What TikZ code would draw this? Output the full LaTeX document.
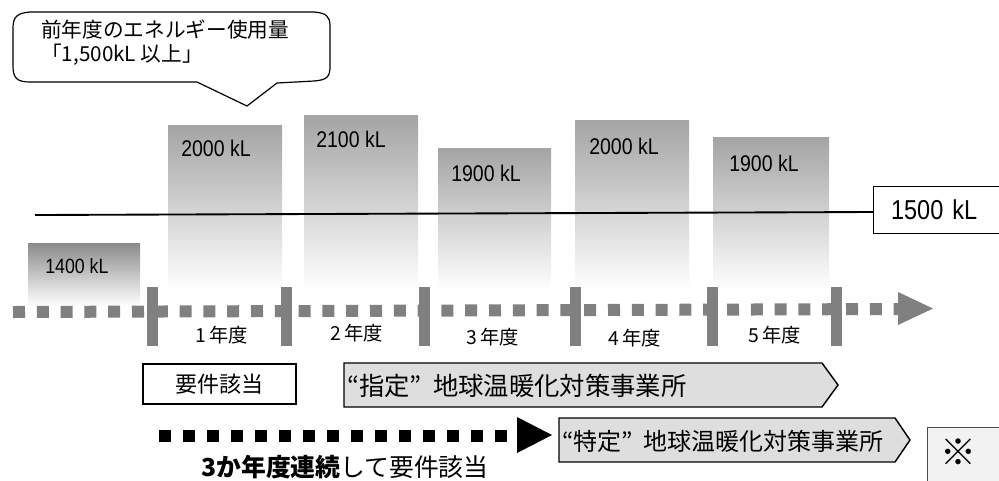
\documentclass[tikz,border=0pt]{standalone}
\usepackage{fontspec}
\setmainfont{Noto Sans CJK JP}
\newfontfamily\lat[FakeStretch=0.86]{Liberation Sans}
\definecolor{tl}{HTML}{808080}
\definecolor{barc}{HTML}{A4A4A4}
\definecolor{barcd}{HTML}{8A8A8A}
\definecolor{boxg}{HTML}{DEDEDE}
\definecolor{noteg}{HTML}{F2F2F2}
\tikzset{
  barlab/.style={anchor=west, inner sep=0pt, font=\lat\fontsize{17pt}{20pt}\selectfont},
  yearlab/.style={inner sep=0pt, font=\fontsize{14.5pt}{17pt}\selectfont},
  calltext/.style={anchor=west, inner sep=0pt, font=\fontsize{15.5pt}{18pt}\selectfont},
  boxtext/.style={anchor=west, inner sep=0pt, font=\fontsize{19pt}{22pt}\selectfont},
  tickbar/.style={fill=tl, draw=none},
  outline/.style={draw=black, line width=1.1pt},
}
\begin{document}
\begin{tikzpicture}[x=0.75pt,y=-0.75pt]
\useasboundingbox (0,0) rectangle (999,480);
\clip (0,0) rectangle (999,480);

% ---- callout ----
\draw[line width=0.9pt, fill=white] (247,106) -- (277,83) -- (314,81)
  .. controls (328,80) and (330,76) .. (330,66) -- (330,26)
  .. controls (330,16) and (326,13) .. (314,12) -- (30,12)
  .. controls (17,13) and (13,17) .. (13,28) -- (13,66)
  .. controls (13,78) and (17,82) .. (30,82) -- (197,82) -- cycle;
\node[calltext] (c1) at (41,30) {前年度のエネルギー使用量};
\node[calltext] (c2) at (41,55) {「1,500kL 以上」};

% ---- bars ----
\shade[top color=barcd, bottom color=white] (28,243) rectangle (140,306);
\shade[top color=barc, bottom color=white] (168,125) rectangle (282,290);
\shade[top color=barc, bottom color=white] (304,115) rectangle (418,290);
\shade[top color=barc, bottom color=white] (438,148) rectangle (551,290);
\shade[top color=barc, bottom color=white] (575,120) rectangle (689,290);
\shade[top color=barc, bottom color=white] (713,137) rectangle (829,290);
\node[barlab, font=\lat\fontsize{15.5pt}{18pt}\selectfont] (v0) at (45,266) {1400 kL};
\node[barlab] (v1) at (181,148) {2000 kL};
\node[barlab] (v2) at (316,139.5) {2100 kL};
\node[barlab] (v3) at (451,173.5) {1900 kL};
\node[barlab] (v4) at (589,146) {2000 kL};
\node[barlab] (v5) at (729,163) {1900 kL};

% ---- threshold ----
\node[draw=black, line width=1.1pt, fill=white, anchor=north west, minimum width=110pt,
  minimum height=35pt, inner xsep=12pt, text width=84pt, align=left,
  font=\lat\fontsize{20.5pt}{24pt}\selectfont] (lim) at (873,186) {1500 kL};
\coordinate (l0) at (35,215);
\draw[line width=1.4pt] (l0) -- (lim.west |- 0,212);

% ---- time line ----
\coordinate (t0) at (13,312);
\coordinate (t1) at (898,309);
\draw[tl, line width=9pt, dash pattern=on 9pt off 8.85pt] (t0) -- (t1);
\fill[tl] (898,292) -- (933,308.5) -- (898,325) -- cycle;
\foreach \x/\n in {147/k1,281/k2,419/k3,570/k4,707/k5,831/k6}{
  \fill[tickbar] (\x,287) rectangle ++(11,59);
}
\node[yearlab] (y1) at (222,335) {1\hspace{2pt}年度};
\node[yearlab] (y2) at (357,333) {2\hspace{2pt}年度};
\node[yearlab] (y3) at (493,337) {3\hspace{2pt}年度};
\node[yearlab] (y4) at (635,338) {4\hspace{2pt}年度};
\node[yearlab] (y5) at (775,335) {5\hspace{2pt}年度};

% ---- status boxes ----
\node[outline, fill=white, minimum width=114.5pt, minimum height=30pt, inner sep=0pt,
  font=\fontsize{16.5pt}{19pt}\selectfont] (req) at (219.5,384) {要件該当};
\filldraw[outline, fill=boxg] (344,363) -- (822,363) -- (838,385) -- (822,407) -- (344,407) -- cycle;
\node[boxtext] (shitei) at (347,386) {“指定”\hspace{0.45em}地球温暖化対策事業所};
\filldraw[outline, fill=boxg] (559,418) -- (895,418) -- (910,440) -- (895,462) -- (559,462) -- cycle;
\node[boxtext, font=\fontsize{18pt}{21pt}\selectfont] (tokutei) at (562,441) {“特定”\hspace{0.45em}地球温暖化対策事業所};

% ---- three-year arrow ----
\coordinate (a0) at (159,435.5);
\coordinate (a1) at (515,435.5);
\draw[black, line width=9pt, dash pattern=on 9pt off 9pt] (a0) -- (a1);
\fill[black] (517,417) -- (552,435) -- (517,453) -- cycle;
\node[inner sep=0pt, font=\fontsize{18.6pt}{22pt}\selectfont] (cont) at (345,467)
  {{\bfseries 3か年度連続}して要件該当};

% ---- note box ----
\filldraw[fill=noteg, draw=black!70, line width=0.7pt] (927,427) rectangle (1010,490);
\node[inner sep=0pt, font=\fontsize{18pt}{21pt}\selectfont] (note) at (958.5,452) {\scalebox{1.5}{※}};
\end{tikzpicture}
\end{document}
